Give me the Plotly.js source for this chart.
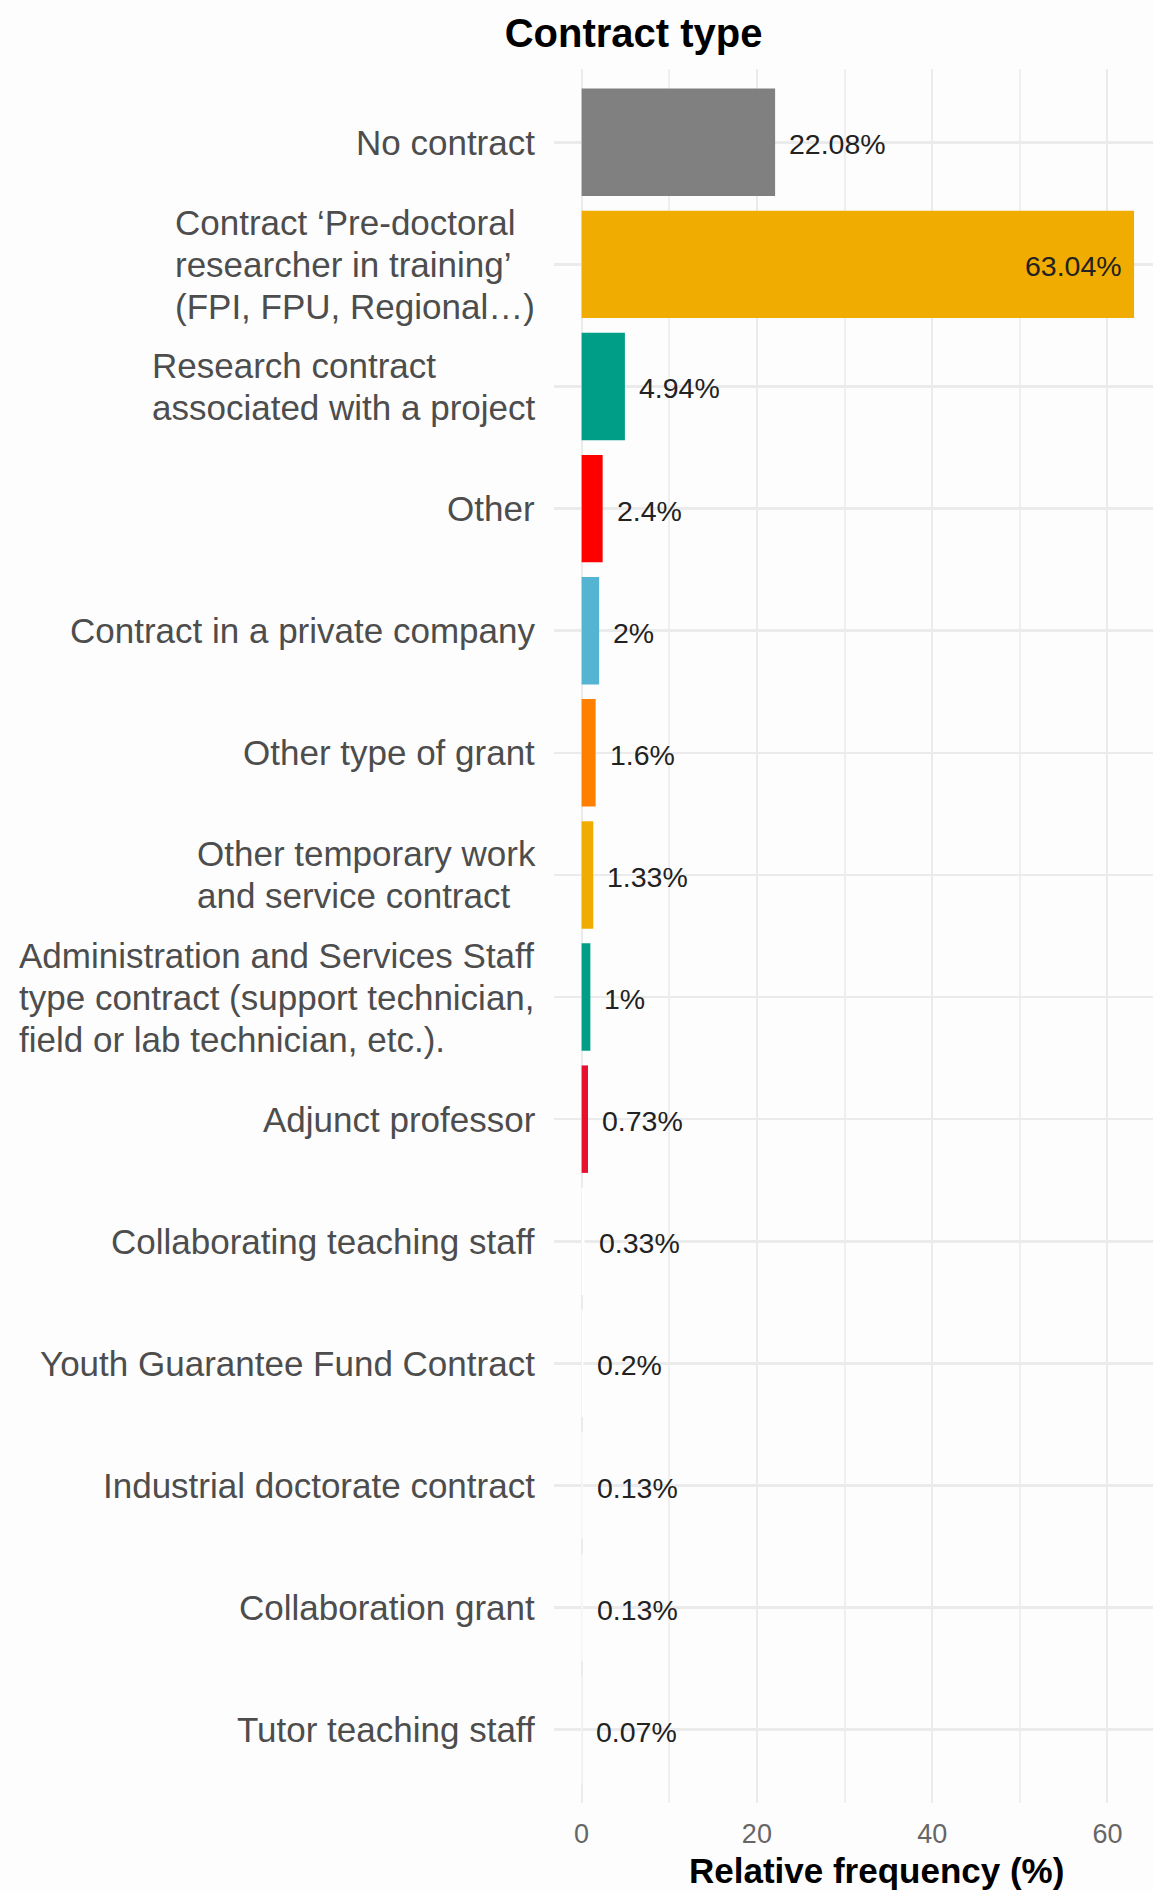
<!DOCTYPE html>
<html>
<head>
<meta charset="utf-8">
<script src="https://cdn.plot.ly/plotly-3.0.1.min.js"></script>
<style>html,body{margin:0;padding:0;background:#FDFDFD;}</style>
</head>
<body>
<div id="chart" style="width:1153px;height:1891px;"></div>
<script>
const categories = [
  "No contract",
  "Contract ‘Pre-doctoral<br>researcher in training’<br>(FPI, FPU, Regional…)",
  "Research contract<br>associated with a project",
  "Other",
  "Contract in a private company",
  "Other type of grant",
  "Other temporary work<br>and service contract",
  "Administration and Services Staff<br>type contract (support technician,<br>field or lab technician, etc.).",
  "Adjunct professor",
  "Collaborating teaching staff",
  "Youth Guarantee Fund Contract",
  "Industrial doctorate contract",
  "Collaboration grant",
  "Tutor teaching staff"
];
const values = [22.08, 63.04, 4.94, 2.4, 2, 1.6, 1.33, 1, 0.73, 0.33, 0.2, 0.13, 0.13, 0.07];
const valueLabels = ["22.08%", "63.04%", "4.94%", "2.4%", "2%", "1.6%", "1.33%", "1%", "0.73%", "0.33%", "0.2%", "0.13%", "0.13%", "0.07%"];
const barColors = ["#808080", "#F0AC00", "#009E86", "#FF0000", "#56B4D3", "#FF8000", "#F0AC00", "#009E86", "#E8102E",
                   "#FFFFFF", "#FFFFFF", "#FFFFFF", "#FFFFFF", "#FFFFFF"];
const xTicks = [0, 20, 40, 60];

const FONT = "Liberation Sans, Arial, Helvetica, sans-serif";
const LABEL_SIZE = 35;
const LINE_H = 42;
const LABEL_GAP = 18;

const ctx = document.createElement("canvas").getContext("2d");
ctx.font = LABEL_SIZE + "px 'Liberation Sans', Arial, sans-serif";

const trace = {
  type: "bar",
  orientation: "h",
  x: values,
  y: categories,
  width: 0.88,
  marker: {color: barColors, line: {width: 0}},
  hoverinfo: "skip"
};

const annotations = [];
categories.forEach((c, i) => {
  const lines = c.split("<br>");
  const blockW = Math.max(...lines.map(l => ctx.measureText(l).width));
  lines.forEach((ln, k) => {
    annotations.push({
      x: 0, xref: "paper", y: c, yref: "y",
      xanchor: "left", yanchor: "middle",
      xshift: -LABEL_GAP - blockW - 3,
      yshift: -(k - (lines.length - 1) / 2) * LINE_H,
      text: ln, showarrow: false,
      font: {family: FONT, size: LABEL_SIZE, color: "#4D4D4D"}
    });
  });
  const inside = values[i] > 50;
  annotations.push({
    x: values[i], xref: "x", y: c, yref: "y",
    xanchor: inside ? "right" : "left", yanchor: "middle",
    xshift: inside ? -10 : 12, yshift: -2,
    text: valueLabels[i], showarrow: false,
    font: {family: FONT, size: 28.5, color: "#222222"}
  });
});
annotations.push({
  x: 0.539, xref: "paper", y: -0.0404, yref: "paper",
  xanchor: "center", yanchor: "middle", yshift: 3,
  text: "<b>Relative frequency (%)</b>", showarrow: false,
  font: {family: FONT, size: 35, color: "#000000"}
});

const layout = {
  width: 1153, height: 1891,
  margin: {l: 554, r: 0, t: 69, b: 88, pad: 0},
  paper_bgcolor: "#FDFDFD",
  plot_bgcolor: "#FDFDFD",
  showlegend: false,
  title: {
    text: "<b>Contract type</b>",
    xref: "container", yref: "container",
    x: 0.5495, y: 0.9825, xanchor: "center", yanchor: "middle",
    font: {family: FONT, size: 40, color: "#000000"}
  },
  xaxis: {
    range: [-3.15, 65.2],
    tickvals: xTicks,
    ticktext: xTicks.map(String),
    showgrid: true, gridcolor: "#EBEBEB", gridwidth: 2,
    minor: {dtick: 10, tick0: 0, showgrid: true, gridcolor: "#EFEFEF", gridwidth: 2},
    zeroline: false, showline: false, ticks: "",
    tickfont: {family: FONT, size: 27, color: "#666666"},
    ticklabelstandoff: 12,
    fixedrange: true
  },
  yaxis: {
    type: "category",
    range: [13.6, -0.6],
    showticklabels: false,
    showgrid: true, gridcolor: "#EBEBEB", gridwidth: 2.5,
    zeroline: false, showline: false, ticks: "",
    fixedrange: true
  },
  annotations: annotations
};

Plotly.newPlot("chart", [trace], layout, {staticPlot: true, displayModeBar: false});
</script>
</body>
</html>
